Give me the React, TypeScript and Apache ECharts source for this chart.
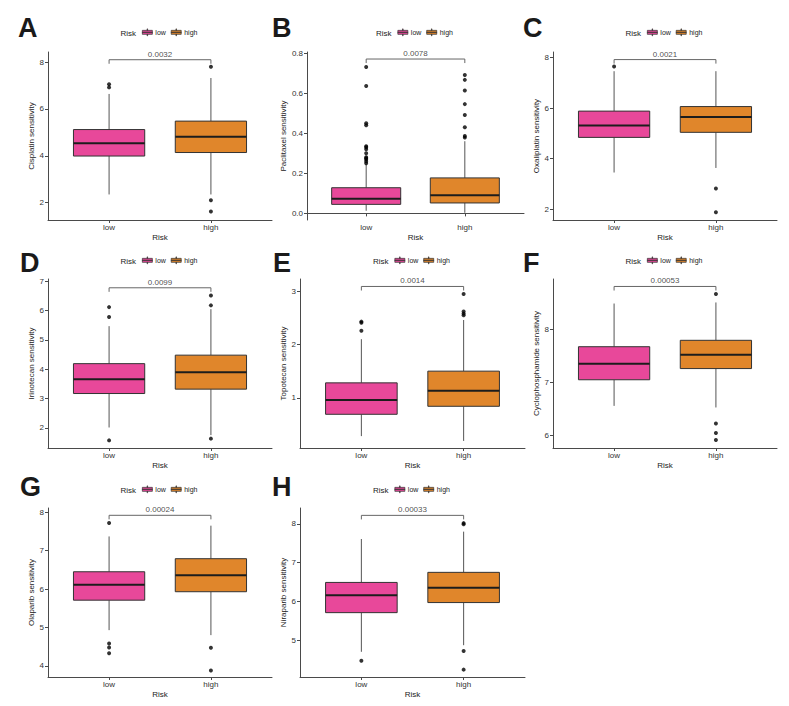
import { useEffect, useRef } from 'react';
import * as echarts from 'echarts';

// ---------- data ----------
const groups = ['low', 'high'];
const panelLetters = ['A', 'B', 'C', 'D', 'E', 'F', 'G', 'H'];
const drugs = ['Cisplatin', 'Paclitaxel', 'Oxaliplatin', 'Irinotecan', 'Topotecan', 'Cyclophosphamide', 'Olaparib', 'Niraparib'];
const pValues = ['0.0032', '0.0078', '0.0021', '0.0099', '0.0014', '0.00053', '0.00024', '0.00033'];

// five-number summaries [min, Q1, median, Q3, max]
const lowBoxes = [
  [2.35, 3.99, 4.54, 5.12, 6.64],
  [0.013, 0.045, 0.073, 0.128, 0.245],
  [3.45, 4.84, 5.31, 5.88, 7.46],
  [2.01, 3.17, 3.66, 4.19, 5.47],
  [0.28, 0.69, 0.956, 1.28, 2.1],
  [6.56, 7.05, 7.35, 7.67, 8.48],
  [4.93, 5.71, 6.11, 6.45, 7.37],
  [4.7, 5.71, 6.16, 6.49, 7.61],
];
const highBoxes = [
  [2.35, 4.14, 4.81, 5.48, 7.32],
  [0.003, 0.052, 0.091, 0.177, 0.36],
  [3.63, 5.04, 5.65, 6.06, 7.46],
  [1.75, 3.32, 3.9, 4.48, 6.05],
  [0.19, 0.84, 1.13, 1.5, 2.46],
  [6.53, 7.26, 7.52, 7.79, 8.5],
  [4.8, 5.93, 6.36, 6.79, 7.65],
  [4.87, 5.97, 6.35, 6.75, 7.8],
];
const lowOutliers = [
  [6.92, 7.05],
  [0.25, 0.26, 0.27, 0.275, 0.28, 0.3, 0.32, 0.33, 0.335, 0.44, 0.45, 0.635, 0.73],
  [7.65],
  [6.12, 5.78, 1.57],
  [2.26, 2.41, 2.43],
  [],
  [7.72, 4.58, 4.48, 4.33],
  [4.47],
];
const highOutliers = [
  [7.8, 2.1, 1.62],
  [0.378, 0.386, 0.43, 0.491, 0.545, 0.613, 0.666, 0.69],
  [2.82, 1.88],
  [6.18, 6.52, 1.63],
  [2.55, 2.58, 2.62, 2.95],
  [8.66, 6.23, 6.05, 5.92],
  [4.47, 3.88],
  [8.02, 7.99, 4.72, 4.24],
];
const bracketLevels = [8.1, 0.77, 7.92, 6.78, 3.09, 8.8, 7.92, 8.22];
const yMins = [1.26, -0.033, 1.57, 1.31, 0.057, 5.77, 3.71, 4.05];
const yMaxs = [8.43, 0.805, 8.22, 7.08, 3.23, 8.94, 8.11, 8.41];
const yTicks = [
  [2, 4, 6, 8],
  [0, 0.2, 0.4, 0.6, 0.8],
  [2, 4, 6, 8],
  [2, 3, 4, 5, 6, 7],
  [1, 2, 3],
  [6, 7, 8],
  [4, 5, 6, 7, 8],
  [5, 6, 7, 8],
];
const yDecimals = [0, 1, 0, 0, 0, 0, 0, 0];

// ---------- layout / style ----------
const gridLeft = [48, 307, 553, 48, 300, 553, 48, 300];
const gridRight = [272, 524, 777, 272, 525, 777, 272, 525];
const rowTop = [52, 279, 508];
const rowBottom = [220, 448, 677];
const legendY = [33, 261, 490];
const yNameGaps = [12, 18, 11, 12, 11, 11, 12, 11];
const letterPos = [[18, 28], [272, 28], [523, 28], [20, 263], [273, 263], [523, 263], [20, 487], [272, 487]];
const groupColors = ['#E8489A', '#E0862B'];
const FONT = '"Liberation Sans", Arial, Helvetica, sans-serif';
const BOX_HALF = 0.35;
const legendIcon = 'path://M0,3 L20,3 L20,11 L0,11 Z M0,6.6 L20,6.6 L20,7.4 L0,7.4 Z M9.5,0 L10.5,0 L10.5,3 L9.5,3 Z M9.5,11 L10.5,11 L10.5,14 L9.5,14 Z';

function buildOption() {
  const n = drugs.length;
  const grid: any[] = [];
  const xAxis: any[] = [];
  const yAxis: any[] = [];
  const series: any[] = [];
  const legend: any[] = [];
  const graphic: any[] = [];

  for (let i = 0; i < n; i++) {
    const row = Math.floor(i / 3);
    grid.push({
      left: gridLeft[i],
      top: rowTop[row],
      width: gridRight[i] - gridLeft[i],
      height: rowBottom[row] - rowTop[row],
      containLabel: false,
    });
    xAxis.push({
      type: 'value',
      gridIndex: i,
      min: 0.4,
      max: 2.6,
      name: 'Risk',
      nameLocation: 'middle',
      nameGap: 13,
      nameTextStyle: { fontSize: 8, color: '#222', fontFamily: FONT },
      axisLine: { show: true, lineStyle: { color: '#4a4a4a', width: 1 } },
      axisTick: { show: true, length: 3, customValues: [1, 2], lineStyle: { color: '#4a4a4a' } },
      axisLabel: {
        customValues: [1, 2],
        formatter: (v: number) => groups[Math.round(v) - 1],
        fontSize: 8,
        color: '#333',
        margin: 3,
        fontFamily: FONT,
      },
      splitLine: { show: false },
    });
    yAxis.push({
      type: 'value',
      gridIndex: i,
      min: yMins[i],
      max: yMaxs[i],
      name: drugs[i] + ' sensitivity',
      nameLocation: 'middle',
      nameRotate: 90,
      nameGap: yNameGaps[i],
      nameTextStyle: { fontSize: 8, color: '#222', fontFamily: FONT },
      axisLine: { show: true, lineStyle: { color: '#4a4a4a', width: 1 } },
      axisTick: { show: true, length: 3, customValues: yTicks[i], lineStyle: { color: '#4a4a4a' } },
      axisLabel: {
        customValues: yTicks[i],
        formatter: (v: number) => v.toFixed(yDecimals[i]),
        fontSize: 8,
        color: '#333',
        margin: 4,
        fontFamily: FONT,
      },
      splitLine: { show: false },
    });

    const boxSets = [lowBoxes[i], highBoxes[i]];
    const outSets = [lowOutliers[i], highOutliers[i]];
    for (let g = 0; g < 2; g++) {
      series.push({
        type: 'custom',
        name: groups[g],
        xAxisIndex: i,
        yAxisIndex: i,
        silent: true,
        itemStyle: { color: groupColors[g] },
        dimensions: ['x', 'min', 'q1', 'median', 'q3', 'max'],
        encode: { x: 0, y: [1, 2, 3, 4, 5] },
        data: [[g + 1, ...boxSets[g]]],
        renderItem: (params: any, api: any) => {
          const x = api.value(0);
          const v = [1, 2, 3, 4, 5].map((k) => api.value(k));
          const pMin = api.coord([x, v[0]]);
          const pQ1 = api.coord([x, v[1]]);
          const pMed = api.coord([x, v[2]]);
          const pQ3 = api.coord([x, v[3]]);
          const pMax = api.coord([x, v[4]]);
          const xl = api.coord([x - BOX_HALF, v[2]])[0];
          const xr = api.coord([x + BOX_HALF, v[2]])[0];
          return {
            type: 'group',
            children: [
              { type: 'line', shape: { x1: pMin[0], y1: pMin[1], x2: pQ1[0], y2: pQ1[1] }, style: { stroke: '#555', lineWidth: 1 } },
              { type: 'line', shape: { x1: pQ3[0], y1: pQ3[1], x2: pMax[0], y2: pMax[1] }, style: { stroke: '#555', lineWidth: 1 } },
              { type: 'rect', shape: { x: xl, y: pQ3[1], width: xr - xl, height: pQ1[1] - pQ3[1] }, style: { fill: api.visual('color'), stroke: '#333', lineWidth: 1 } },
              { type: 'line', shape: { x1: xl, y1: pMed[1], x2: xr, y2: pMed[1] }, style: { stroke: '#1c1c1c', lineWidth: 2 } },
            ],
          };
        },
      });
      series.push({
        type: 'scatter',
        name: groups[g] + ' outliers',
        xAxisIndex: i,
        yAxisIndex: i,
        silent: true,
        symbol: 'circle',
        symbolSize: 4,
        itemStyle: { color: '#000' },
        data: outSets[g].map((v) => [g + 1, v]),
      });
    }

    const b = bracketLevels[i];
    const tip = (yMaxs[i] - yMins[i]) * 0.024;
    series.push({
      type: 'line',
      name: 'bracket',
      xAxisIndex: i,
      yAxisIndex: i,
      silent: true,
      symbol: 'none',
      lineStyle: { color: '#666', width: 1 },
      data: [[1, b - tip], [1, b], [2, b], [2, b - tip]],
    });
    series.push({
      type: 'scatter',
      name: 'p-value',
      xAxisIndex: i,
      yAxisIndex: i,
      silent: true,
      symbolSize: 1,
      itemStyle: { color: 'rgba(0,0,0,0)' },
      label: {
        show: true,
        position: 'top',
        distance: 1,
        formatter: pValues[i],
        fontSize: 8,
        color: '#222',
        fontFamily: FONT,
      },
      data: [[1.5, b]],
    });

    const cx = (gridLeft[i] + gridRight[i]) / 2;
    legend.push({
      data: groups,
      left: cx - 18,
      top: legendY[row] - 4.5,
      orient: 'horizontal',
      padding: 0,
      itemWidth: 10,
      itemHeight: 7,
      itemGap: 5,
      icon: legendIcon,
      selectedMode: false,
      itemStyle: { borderColor: '#333', borderWidth: 0.7 },
      textStyle: { fontSize: 7, color: '#222', fontFamily: FONT, padding: [0, 0, 0, -2] },
    });
    graphic.push({
      type: 'text',
      x: cx - 24,
      y: legendY[row],
      style: { text: 'Risk', fontSize: 8, fill: '#222', fontFamily: FONT, align: 'right', verticalAlign: 'middle' },
    });
    graphic.push({
      type: 'text',
      x: letterPos[i][0],
      y: letterPos[i][1],
      style: { text: panelLetters[i], fontSize: 27, fontWeight: 'bold', fill: '#1a1a1a', fontFamily: FONT, align: 'left', verticalAlign: 'middle' },
    });
  }

  return {
    animation: false,
    backgroundColor: '#ffffff',
    textStyle: { fontFamily: FONT },
    grid,
    xAxis,
    yAxis,
    legend,
    graphic,
    series,
  };
}

export default function App() {
  const ref = useRef<HTMLDivElement>(null);
  useEffect(() => {
    document.body.style.margin = '0';
    if (!ref.current) return;
    const chart = echarts.init(ref.current, null, { renderer: 'svg' });
    chart.setOption(buildOption() as any);
    return () => chart.dispose();
  }, []);
  return <div ref={ref} style={{ width: 789, height: 706 }} />;
}
